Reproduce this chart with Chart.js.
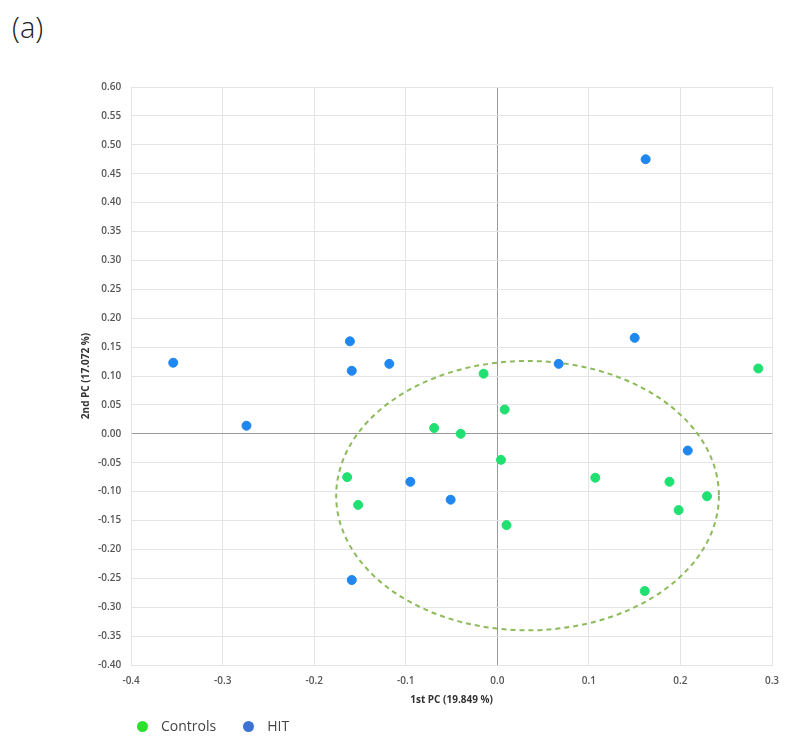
<!DOCTYPE html>
<html>
<head>
<meta charset="utf-8">
<script src="https://cdn.jsdelivr.net/npm/chart.js@4"></script>
<style>
  html, body { margin: 0; padding: 0; background: #fff; }
  #wrap { position: relative; width: 793px; height: 751px; }
  #panel { position: absolute; left: 12px; top: 7px; font: 300 29px "Open Sans", sans-serif; color: #222; }
  canvas { position: absolute; left: 0; top: 0; }
  #legend { position: absolute; left: 137px; top: 716px; font: 14px "Open Sans", sans-serif; color: #444; }
  #legend span.item { display: inline-block; margin-right: 27px; line-height: 20px; }
  #legend span.dot { display: inline-block; width: 11px; height: 11px; border-radius: 50%; margin-right: 13px; vertical-align: -1px; }
</style>
</head>
<body>
<div id="wrap">
  <div id="panel">(a)</div>
  <canvas id="pca" width="793" height="751"></canvas>
  <div id="legend"></div>
</div>
<script>
// PCA scores
const hitX = [-0.354, -0.274, -0.161, -0.159, -0.118, -0.095, -0.051, -0.159, 0.067, 0.150, 0.162, 0.208];
const hitY = [0.123, 0.014, 0.160, 0.109, 0.121, -0.083, -0.114, -0.253, 0.121, 0.166, 0.475, -0.029];

const ctrlX = [-0.015, 0.008, -0.069, -0.040, 0.004, -0.164, -0.152, 0.010, 0.107, 0.188, 0.198, 0.229, 0.161, 0.285];
const ctrlY = [0.104, 0.042, 0.010, 0.000, -0.045, -0.075, -0.123, -0.158, -0.076, -0.083, -0.132, -0.108, -0.272, 0.113];

// dashed confidence ellipse round the controls (centre, radii in data units)
const ellCenter = [0.033, -0.107];
const ellRadius = [0.209, 0.233];

const seriesNames = ['Controls', 'HIT'];
const pointColors = ['#1fe070', '#1f87f0'];
const legendColors = ['#2ee02e', '#3b72d4'];

const toPoints = (xs, ys) => xs.map((x, i) => ({ x: x, y: ys[i] }));

// draws the ellipse via the chart scales
const ellipsePlugin = {
    id: 'ellipse',
    beforeDatasetsDraw(chart) {
        const { ctx, scales } = chart;
        const cx = scales.x.getPixelForValue(ellCenter[0]);
        const cy = scales.y.getPixelForValue(ellCenter[1]);
        const rx = Math.abs(scales.x.getPixelForValue(ellCenter[0] + ellRadius[0]) - cx);
        const ry = Math.abs(scales.y.getPixelForValue(ellCenter[1] + ellRadius[1]) - cy);
        ctx.save();
        ctx.strokeStyle = '#8dbb5c';
        ctx.lineWidth = 2;
        ctx.setLineDash([5, 4]);
        ctx.beginPath();
        ctx.ellipse(cx, cy, rx, ry, 0, 0, Math.PI * 2);
        ctx.stroke();
        ctx.restore();
    }
};

const isZero = v => Math.abs(v) < 1e-9;
// avoid "-0.0" from float noise
const fmt = (v, d) => (isZero(v) ? 0 : v).toFixed(d);
const tickFont = { family: '"Open Sans", sans-serif', size: 10, weight: '600' };
const titleFont = { family: '"Open Sans", sans-serif', size: 10, weight: 'bold' };

new Chart(document.getElementById('pca').getContext('2d'), {
    type: 'scatter',
    data: {
        datasets: [
            {
                label: seriesNames[0],
                data: toPoints(ctrlX, ctrlY),
                backgroundColor: pointColors[0],
                borderColor: pointColors[0],
                pointRadius: 4.5
            },
            {
                label: seriesNames[1],
                data: toPoints(hitX, hitY),
                backgroundColor: pointColors[1],
                borderColor: pointColors[1],
                pointRadius: 4.5
            }
        ]
    },
    options: {
        responsive: false,
        animation: false,
        layout: { padding: { top: 87, left: 78, right: 21, bottom: 41 } },
        plugins: {
            tooltip: { enabled: false },
            legend: { display: false }
        },
        scales: {
            x: {
                type: 'linear',
                min: -0.4,
                max: 0.3,
                ticks: {
                    stepSize: 0.1,
                    padding: 10,
                    color: '#555',
                    font: tickFont,
                    callback: v => fmt(v, 1)
                },
                grid: {
                    drawTicks: false,
                    color: c => isZero(c.tick.value) ? '#9a9a9a' : '#e4e4e4'
                },
                border: { color: '#e4e4e4' },
                title: { display: true, text: '1st PC (19.849 %)', color: '#333', font: titleFont, padding: { top: -3, bottom: 4 } }
            },
            y: {
                type: 'linear',
                min: -0.4,
                max: 0.6,
                ticks: {
                    stepSize: 0.05,
                    padding: 10,
                    color: '#555',
                    font: tickFont,
                    callback: v => fmt(v, 2)
                },
                grid: {
                    drawTicks: false,
                    color: c => isZero(c.tick.value) ? '#9a9a9a' : '#e4e4e4'
                },
                border: { color: '#e4e4e4' },
                title: { display: true, text: '2nd PC (17.072 %)', color: '#333', font: titleFont, padding: { top: 2, bottom: -4 } }
            }
        }
    },
    plugins: [ellipsePlugin]
});

// legend below the chart, from the same names and colours
document.getElementById('legend').innerHTML = seriesNames.map((name, i) =>
    `<span class="item"><span class="dot" style="background:${legendColors[i]}"></span>${name}</span>`
).join('');
</script>
</body>
</html>
